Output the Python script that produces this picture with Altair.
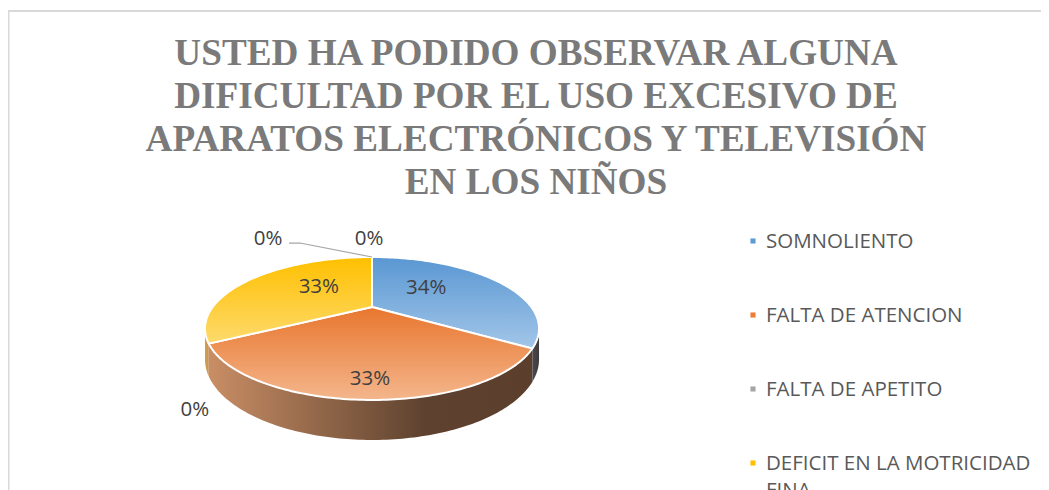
import math
import altair as alt
import pandas as pd

# ---------------- data ----------------
title_lines = [
    "USTED HA PODIDO OBSERVAR ALGUNA",
    "DIFICULTAD POR EL USO EXCESIVO DE",
    "APARATOS ELECTRÓNICOS Y TELEVISIÓN",
    "EN LOS NIÑOS",
]
legend_names = [
    "SOMNOLIENTO",
    "FALTA DE ATENCION",
    "FALTA DE APETITO",
    "DEFICIT EN LA MOTRICIDAD FINA",
]
# shares of the pie points, clockwise from 12 o'clock; the last two are
# zero-valued points whose legend rows fall below the visible area
slice_shares = [34, 33, 0, 33, 0, 0]
slice_labels = ["34%", "33%", "0%", "33%", "0%", "0%"]
legend_colors = ["#5B9BD5", "#ED7D31", "#A5A5A5", "#FFC000"]

# ---------------- styles / layout ----------------
top_gradients = [
    ["#5A97D3", "#A2C6E8"],
    ["#E8762E", "#F4B68C"],
    ["#A5A5A5", "#CFCFCF"],
    ["#FFC000", "#FDDA6C"],
    ["#4472C4", "#8FAADC"],
    ["#70AD47", "#A9D18E"],
]
side_gradients = [
    ["#4A4A52", "#3E3A3A"],
    ["#C98E65", "#93684A", "#5E422F", "#5B3F2C"],
    ["#7F7F7F", "#5F5F5F"],
    ["#D0A24C", "#C8925A"],
    ["#34589A", "#263F6E"],
    ["#56863A", "#3F6229"],
]
W_VIEW, H_VIEW = 1033, 490          # bottom is cut by the window like the reference
X0, Y0 = 8, 11                      # page position of the view
CX, CY = 372.0, 307.0               # projected pie centre
SU, SV, PERSP = 159.3, 65.0, 0.3007 # perspective projection of the pie disc
DEPTH = 28.0                        # thickness of the disc
TEXT_FONT = "Open Sans"
LABEL_FS = 20.5
IN_FX, IN_FY = 0.37, 0.77           # inside-label placement factors
OUT_NUDGE_BACK = (-3, -18)
OUT_NUDGE_FRONT = (-14, 34)
COLLIDE_SHIFT = -101
LEG_MARK_X, LEG_TEXT_X, LEG_Y0, LEG_STEP = 753, 766, 241, 74
TITLE_CENTER_X = 536


def proj(theta_deg, r=1.0, drop=0.0):
    t = math.radians(theta_deg)
    u, v = r * math.sin(t), -r * math.cos(t)
    w = 1.0 - PERSP * v
    return CX + SU * u / w, CY + (SV * v + drop) / w


xs = alt.Scale(domain=[X0, X0 + W_VIEW], nice=False, zero=False)
ys = alt.Scale(domain=[Y0, Y0 + H_VIEW], nice=False, zero=False, reverse=True)


def X(f="x"):
    return alt.X(f, type="quantitative", scale=xs, axis=None)


def Y(f="y"):
    return alt.Y(f, type="quantitative", scale=ys, axis=None)


def grad(colors, horizontal=False):
    n = len(colors)
    stops = [alt.GradientStop(color=c, offset=i / (n - 1)) for i, c in enumerate(colors)]
    if horizontal:
        return alt.LinearGradient(gradient="linear", stops=stops, x1=0, x2=1, y1=0, y2=0)
    return alt.LinearGradient(gradient="linear", stops=stops, x1=0, x2=0, y1=0, y2=1)


def arc_pts(a, b, drop=0.0):
    n = max(2, int(abs(b - a)) + 1)
    return [proj(a + (b - a) * k / n, 1.0, drop) for k in range(n + 1)]


total = float(sum(slice_shares))
starts, ends = [], []
acc = 0.0
for s in slice_shares:
    starts.append(acc / total * 360.0)
    acc += s
    ends.append(acc / total * 360.0)

th_r = math.degrees(math.acos(-PERSP))
th_l = 360.0 - th_r

# chart frame borders (top and left; the others lie outside the window)
frame_layers = [
    alt.Chart(pd.DataFrame({"k": [0]})).mark_rule(color="#D9D9D9", strokeWidth=2)
    .encode(x=alt.value(0), x2=alt.value(W_VIEW), y=alt.value(0)),
    alt.Chart(pd.DataFrame({"k": [0]})).mark_rule(color="#D9D9D9", strokeWidth=2)
    .encode(x=alt.value(0.5), y=alt.value(0), y2=alt.value(H_VIEW)),
]

side_layers, top_layers = [], []
for i, s in enumerate(slice_shares):
    if s <= 0:
        continue
    a, b = starts[i], ends[i]
    fa, fb = max(a, th_r), min(b, th_l)
    if fb > fa:
        pts = arc_pts(fa, fb) + arc_pts(fb, fa, DEPTH)
        pts.append(pts[0])
        df = pd.DataFrame({"x": [p[0] for p in pts], "y": [p[1] for p in pts], "i": range(len(pts))})
        side_layers.append(
            alt.Chart(df).mark_line(fill=grad(side_gradients[i], True), strokeWidth=0, strokeOpacity=0)
            .encode(x=X(), y=Y(), order=alt.Order("i:Q"))
        )
    pts = [(CX, CY)] + arc_pts(a, b) + [(CX, CY)]
    df = pd.DataFrame({"x": [p[0] for p in pts], "y": [p[1] for p in pts], "i": range(len(pts))})
    top_layers.append(
        alt.Chart(df).mark_line(fill=grad(top_gradients[i]), stroke="white", strokeWidth=2, strokeJoin="round")
        .encode(x=X(), y=Y(), order=alt.Order("i:Q"))
    )

# data labels
lab_rows = []
used = []
leader = None
for i, s in enumerate(slice_shares):
    mid = (starts[i] + ends[i]) / 2.0
    t = math.radians(mid)
    if s > 0:
        vr = 50.0 if math.cos(t) > 0 else 93.0
        lx = CX + 167.0 * IN_FX * math.sin(t)
        ly = CY - vr * IN_FY * math.cos(t)
    else:
        front = -math.cos(t) > PERSP
        ex, ey = proj(mid, 1.0, DEPTH if front else 0.0)
        nx, ny = OUT_NUDGE_FRONT if front else OUT_NUDGE_BACK
        lx, ly = ex + nx, ey + ny
        if any(abs(lx - ux) < 30 and abs(ly - uy) < 15 for ux, uy in used):
            lx += COLLIDE_SHIFT
            rim = proj(mid, 1.0, 0.0)
            sx, sy = lx + 21, ly + 4
            leader = pd.DataFrame({"x": [sx, sx + 11, rim[0]], "y": [sy, sy, rim[1]], "i": [0, 1, 2]})
        used.append((lx, ly))
    lab_rows.append({"x": lx, "y": ly, "t": slice_labels[i]})
labels_df = pd.DataFrame(lab_rows)

label_layer = alt.Chart(labels_df).mark_text(
    font=TEXT_FONT, fontSize=LABEL_FS, color="#404040", align="center", baseline="middle"
).encode(x=X(), y=Y(), text="t:N")

layers = frame_layers + side_layers + top_layers
if leader is not None:
    layers.append(
        alt.Chart(leader).mark_line(color="#A6A6A6", strokeWidth=1.2)
        .encode(x=X(), y=Y(), order=alt.Order("i:Q"))
    )
layers.append(label_layer)


def wrap(name, width=24):
    words, lines, cur = name.split(), [], ""
    for w in words:
        if cur and len(cur) + 1 + len(w) > width:
            lines.append(cur)
            cur = w
        else:
            cur = (cur + " " + w).strip()
    lines.append(cur)
    return "\n".join(lines)


leg_df = pd.DataFrame({
    "name": legend_names,
    "label": [wrap(n) for n in legend_names],
    "mx": [LEG_MARK_X] * len(legend_names),
    "tx": [LEG_TEXT_X] * len(legend_names),
    "y": [LEG_Y0 + k * LEG_STEP for k in range(len(legend_names))],
})
leg_color = alt.Color("name:N", scale=alt.Scale(domain=legend_names, range=legend_colors), legend=None)
layers.append(
    alt.Chart(leg_df).mark_point(shape="square", filled=True, color="white", size=440, opacity=0.85)
    .encode(x=X("mx"), y=Y())
)
layers.append(
    alt.Chart(leg_df).mark_square(size=26, opacity=1).encode(x=X("mx"), y=Y(), color=leg_color)
)
layers.append(
    alt.Chart(leg_df).mark_text(
        font=TEXT_FONT, fontSize=LABEL_FS, color="#595959", align="left",
        baseline="alphabetic", dy=7, lineBreak="\n", lineHeight=27
    ).encode(x=X("tx"), y=Y(), text="label:N")
)

chart = alt.layer(*layers).properties(
    width=W_VIEW,
    height=H_VIEW,
    padding={"left": 0, "top": 3, "right": 0, "bottom": 0},
    autosize="none",
    title=alt.TitleParams(
        text=title_lines,
        font="Liberation Serif",
        fontSize=37.2,
        fontWeight="bold",
        color="#7A7A7A",
        lineHeight=43,
        anchor="start",
        align="center",
        frame="group",
        baseline="top",
        dx=TITLE_CENTER_X - X0,
        dy=196,
    ),
).configure_view(
    fill="#EFEFEF", stroke=None
).configure(background="white")

chart.save("out.html", embed_options={"renderer": "svg", "actions": False})
